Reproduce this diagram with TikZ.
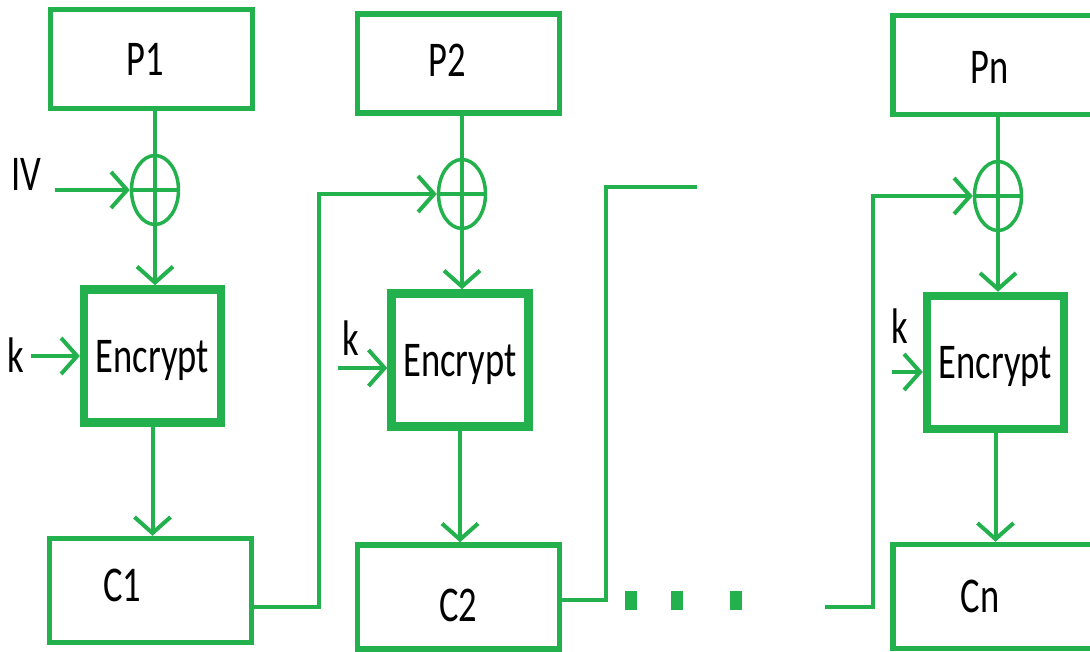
\documentclass[tikz,border=0pt]{standalone}
\usepackage{fontspec}
\setmainfont{Carlito}[FakeStretch=0.73]
\usepackage{tikz}
\usetikzlibrary{shapes.geometric,arrows.meta,positioning,calc}
\definecolor{paintgreen}{RGB}{34,177,76}

\begin{document}
\begin{tikzpicture}[x=1pt,y=-1pt,every node/.style={font=\fontsize{50pt}{56pt}\selectfont,text=black},
  pbox/.style={draw=paintgreen,line width=5.5pt,minimum width=202pt,minimum height=99pt,inner sep=0pt},
  enc/.style={draw=paintgreen,line width=8.5pt,minimum width=137pt,minimum height=133pt,inner sep=0pt,text depth=0pt},
  xor/.style={ellipse,draw=paintgreen,line width=3.5pt,minimum width=47pt,minimum height=69pt,inner sep=0pt,
    path picture={\draw[paintgreen,line width=3.5pt] (path picture bounding box.west) -- (path picture bounding box.east);}},
  conn/.style={draw=paintgreen,line width=4pt},
  arr/.style={conn,-{Straight Barb[length=16pt,width=36pt]}},
  dotsq/.style={fill=paintgreen,minimum width=12pt,minimum height=19pt,inner sep=0pt}]
\useasboundingbox (0,0) rectangle (1090,652);
\clip (0,0) rectangle (1090,652);
% plaintext, xor, encrypt, ciphertext
\node[pbox,label={[xshift=-6pt]center:P1}] (p1) at (151.5,59) {};
\node[pbox,label={[xshift=-11pt,yshift=3pt]center:P2}] (p2) at (458.5,63.5) {};
\node[pbox,label={[xshift=-4pt,yshift=-2pt]center:Pn}] (pn) at (994,65) {};
\node[xor] (x1) at (155,190) {};
\node[xor] (x2) at (462,194) {};
\node[xor] (xn) at (998,196) {};
\node[enc] (e1) at (152.5,356) {Encrypt};
\node[enc] (e2) at (460,360) {Encrypt};
\node[enc] (en) at (995.5,362.5) {Encrypt};
\node[pbox,minimum height=104pt,label={[xshift=-28pt,yshift=5pt]center:C1}] (c1) at (150.5,590.5) {};
\node[pbox,minimum height=104pt,label={[yshift=-8pt]center:C2}] (c2) at (458.5,597) {};
\node[pbox,minimum height=104pt,label={[xshift=-14pt]center:Cn}] (cn) at (994,596.5) {};
% inputs
\node (iv) at (26,174) {IV};
\coordinate (ivin) at (55,190);
\node (k1) at (16,355) {k};
\coordinate (k1in) at (31,356);
\node (k2) at (351,338) {k};
\coordinate (k2in) at (338,368);
\node (kn) at (900,326) {k};
\coordinate (knin) at (892,372);
% gap between the blocks
\coordinate (gapout) at (697,187);
\coordinate (gapin) at (825,607);
\node[dotsq] (d1) at (631,600) {};
\node[dotsq] (d2) at (677,600) {};
\node[dotsq] (d3) at (736,600) {};
% connectors
\draw[conn] (x1 |- p1.south) -- (x1.south);
\draw[conn] (x2 |- p2.south) -- (x2.south);
\draw[conn] (xn |- pn.south) -- (xn.south);
\draw[arr] (x1.south) -- (x1.south |- e1.north);
\draw[arr] (x2.south) -- (x2.south |- e2.north);
\draw[arr] (xn.south) -- (xn.south |- en.north);
\draw[arr] (e1.south) -- (e1.south |- c1.north);
\draw[arr] (e2.south) -- (e2.south |- c2.north);
\draw[arr] (en.south) -- (en.south |- cn.north);
\draw[arr] (ivin) -- (x1.west);
\draw[arr] (k1in) -- (e1.west);
\draw[arr] (k2in) -- (k2in -| e2.west);
\draw[arr] (knin) -- (knin -| en.west);
\draw[arr] ([yshift=-16pt]c1.east) -- ++(65,0) |- (x2.west);
\draw[conn] ([yshift=-3pt]c2.east) -- ++(44,0) |- (gapout);
\draw[arr] (gapin) -- ++(48,0) |- (xn.west);
\end{tikzpicture}
\end{document}
